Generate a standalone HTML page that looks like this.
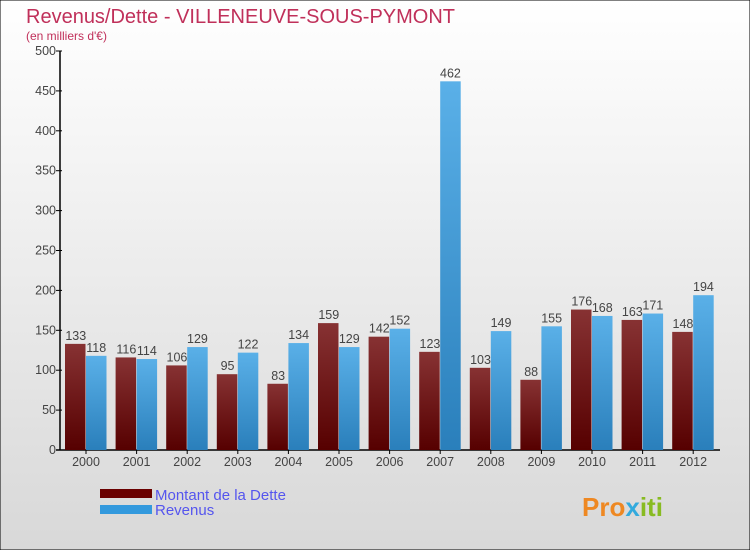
<!DOCTYPE html>
<html><head><meta charset="utf-8"><style>
body{margin:0;}
svg{display:block;font-family:"Liberation Sans",sans-serif;}
</style></head><body>
<svg id="c" width="750" height="550" xmlns="http://www.w3.org/2000/svg">
<defs>
<linearGradient id="bg" x1="0" y1="0" x2="0" y2="1"><stop offset="0" stop-color="#ffffff"/><stop offset="1" stop-color="#d8d8d8"/></linearGradient>
<linearGradient id="gd" x1="0" y1="0" x2="0" y2="1"><stop offset="0" stop-color="#873233"/><stop offset="1" stop-color="#560000"/></linearGradient>
<linearGradient id="gr" x1="0" y1="0" x2="0" y2="1"><stop offset="0" stop-color="#5ab0e8"/><stop offset="1" stop-color="#2a7fbb"/></linearGradient>
</defs>
<rect x="0" y="0" width="750" height="550" fill="url(#bg)" stroke="#000" stroke-width="1"/>
<text x="26" y="23" font-size="20" fill="#c0305a">Revenus/Dette - VILLENEUVE-SOUS-PYMONT</text>
<text x="26" y="40" font-size="12" fill="#c0305a">(en milliers d'€)</text>
<g id="plot"></g>
<rect x="100" y="489" width="52" height="9" fill="#6a0000"/>
<rect x="100" y="505" width="52" height="9" fill="#3399dd"/>
<text x="155" y="500" font-size="15" fill="#5555ee">Montant de la Dette</text>
<text x="155" y="515" font-size="15" fill="#5555ee">Revenus</text>
<text x="582" y="516" font-size="26" font-weight="bold" fill="#ee8822">Pro<tspan fill="#33aadd">x</tspan><tspan fill="#88bb22">iti</tspan></text>
</svg>
<script>
const years=["2000","2001","2002","2003","2004","2005","2006","2007","2008","2009","2010","2011","2012"];
const dette=[133,116,106,95,83,159,142,123,103,88,176,163,148];
const revenus=[118,114,129,122,134,129,152,462,149,155,168,171,194];
const ticks=[0,50,100,150,200,250,300,350,400,450,500];
const NS="http://www.w3.org/2000/svg";
const g=document.getElementById('plot');
const y0=450,ppu=399/500,x0=60;
const yS=v=>y0-v*ppu;
const xC=i=>86+i*50.6;
function mk(t,a){const e=document.createElementNS(NS,t);for(const k in a)e.setAttribute(k,a[k]);g.appendChild(e);return e;}
let ax=mk('line',{x1:x0,y1:yS(500),x2:x0,y2:y0,stroke:'#000','stroke-width':1.5});


let bx=mk('line',{x1:x0-4,y1:y0,x2:720,y2:y0,stroke:'#000','stroke-width':1.5});


ticks.forEach(t=>{
 const y=yS(t);
 let l=mk('line',{x1:x0-4,y1:y,x2:x0+2,y2:y,stroke:'#000'});
 
 
 let tx=mk('text',{x:x0-4,y:y+4,'font-size':12.5,fill:'#444','text-anchor':'end'});
 tx.textContent=t;
 
 
});
years.forEach((yr,i)=>{
 const c=xC(i);
 let tk=mk('line',{x1:c,y1:y0,x2:c,y2:y0+4,stroke:'#000'});
 
 
 let tl=mk('text',{x:c,y:y0+16,'font-size':12.5,fill:'#444','text-anchor':'middle'});
 tl.textContent=yr;
 
 
 const w=20.5;
 const d=dette[i],r=revenus[i];
 let b1=mk('rect',{x:c-w-0.5,y:yS(d),width:w,height:d*ppu,fill:'url(#gd)'});
 
 
 let b2=mk('rect',{x:c,y:yS(r),width:w,height:r*ppu,fill:'url(#gr)'});
 
 
 let v1=mk('text',{x:c-w/2,y:yS(d)-4,'font-size':12.5,fill:'#444','text-anchor':'middle'});
 v1.textContent=d;
 
 
 let v2=mk('text',{x:c+w/2,y:yS(r)-4,'font-size':12.5,fill:'#444','text-anchor':'middle'});
 v2.textContent=r;
 
 
});
</script>
</body></html>
